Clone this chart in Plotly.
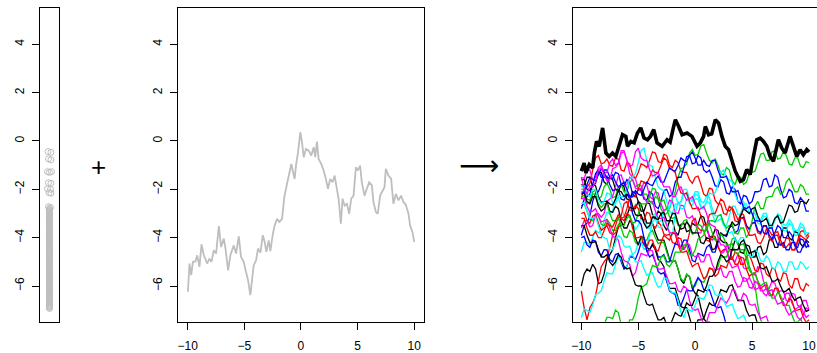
import plotly.graph_objects as go

# ---------------------------------------------------------------
# Panel 1: marginal sample values (column of open circles)
# ---------------------------------------------------------------
sparse_values = [-0.44, -0.47, -0.74, -0.78, -1.27, -1.30, -1.27, -1.73,
                 -1.75, -1.98, -2.00, -2.14, -2.16, -2.72, -2.75]
sparse_jitter = [-0.15, 0.15, -0.10, 0.15, -0.20, 0.00, 0.20, -0.10,
                 0.15, -0.20, 0.10, -0.05, 0.15, -0.10, 0.10]

dense_values = [
    -2.80, -2.83, -2.87, -2.90, -2.94, -2.97, -3.01, -3.04, -3.08, -3.11,
    -3.15, -3.18, -3.22, -3.25, -3.29, -3.32, -3.36, -3.39, -3.43, -3.46,
    -3.50, -3.53, -3.57, -3.60, -3.64, -3.67, -3.71, -3.74, -3.78, -3.81,
    -3.85, -3.88, -3.92, -3.95, -3.99, -4.02, -4.06, -4.09, -4.13, -4.16,
    -4.20, -4.23, -4.27, -4.30, -4.34, -4.37, -4.41, -4.44, -4.48, -4.51,
    -4.55, -4.58, -4.62, -4.65, -4.69, -4.72, -4.76, -4.79, -4.83, -4.86,
    -4.90, -4.93, -4.97, -5.00, -5.04, -5.07, -5.11, -5.14, -5.18, -5.21,
    -5.25, -5.28, -5.32, -5.35, -5.39, -5.42, -5.46, -5.49, -5.53, -5.56,
    -5.60, -5.63, -5.67, -5.70, -5.74, -5.77, -5.81, -5.84, -5.88, -5.91,
    -5.95, -5.98, -6.02, -6.05, -6.09, -6.12, -6.16, -6.19, -6.23, -6.26,
    -6.30, -6.33, -6.37, -6.40, -6.44, -6.47, -6.51, -6.54, -6.58, -6.61,
    -6.65, -6.68, -6.72, -6.75, -6.79, -6.82, -6.86, -6.89, -6.93,
]

# ---------------------------------------------------------------
# Panel 2: one sample path
# ---------------------------------------------------------------
grey_x = [
    -9.98, -9.84, -9.69, -9.54, -9.31, -9.16, -8.96, -8.78, -8.57, -8.28,
    -8.08, -7.90, -7.69, -7.49, -7.25, -7.05, -6.81, -6.67, -6.43, -6.23,
    -6.08, -5.93, -5.73, -5.49, -5.29, -5.05, -4.85, -4.67, -4.47, -4.32,
    -4.17, -3.96, -3.79, -3.58, -3.37, -3.20, -3.05, -2.85, -2.70, -2.50,
    -2.32, -2.11, -1.91, -1.67, -1.47, -1.23, -1.03, -0.85, -0.73, -0.56,
    -0.44, -0.26, -0.06, 0.09, 0.24, 0.44, 0.68, 0.91, 1.12, 1.26,
    1.41, 1.56, 1.79, 2.00, 2.20, 2.38, 2.58, 2.79, 2.97, 3.17,
    3.32, 3.52, 3.67, 3.85, 4.05, 4.26, 4.43, 4.64, 4.85, 5.02,
    5.22, 5.37, 5.61, 5.81, 6.02, 6.26, 6.40, 6.61, 6.78, 6.99,
    7.20, 7.37, 7.49, 7.72, 7.96, 8.16, 8.37, 8.61, 8.84, 9.05,
    9.25, 9.49, 9.63, 9.84, 10.00,
]
grey_y = [
    -6.24, -5.07, -5.55, -5.00, -4.98, -4.73, -5.21, -4.28, -4.73, -5.07,
    -4.87, -5.00, -4.52, -4.66, -3.52, -4.38, -4.04, -4.42, -5.35, -4.73,
    -4.52, -4.32, -4.66, -3.95, -4.80, -5.00, -5.42, -5.76, -6.38, -5.83,
    -5.14, -4.94, -4.45, -4.62, -3.90, -4.18, -4.59, -4.11, -4.56, -3.90,
    -3.49, -3.22, -3.35, -3.22, -2.32, -1.77, -1.36, -0.95, -1.22, -1.57,
    -1.02, -0.47, 0.36, -0.05, -0.67, -0.33, -0.40, -0.60, -0.26, -0.67,
    -0.03, -0.74, -0.95, -1.22, -1.57, -1.98, -1.57, -1.71, -1.43, -1.98,
    -2.39, -3.42, -2.39, -2.67, -2.60, -3.01, -2.39, -2.26, -1.09, -1.22,
    -1.02, -1.71, -2.26, -1.98, -1.71, -1.84, -2.53, -2.94, -3.01, -2.26,
    -2.05, -1.91, -1.15, -1.43, -1.57, -2.60, -2.19, -2.46, -2.26, -2.53,
    -2.64, -3.01, -3.49, -3.77, -4.18,
]

# ---------------------------------------------------------------
# Panel 3: many sample paths on a common grid, plus the highlighted one
# ---------------------------------------------------------------
grid_x = [
    -10.0, -9.75, -9.5, -9.25, -9.0, -8.75, -8.5, -8.25, -8.0, -7.75,
    -7.5, -7.25, -7.0, -6.75, -6.5, -6.25, -6.0, -5.75, -5.5, -5.25,
    -5.0, -4.75, -4.5, -4.25, -4.0, -3.75, -3.5, -3.25, -3.0, -2.75,
    -2.5, -2.25, -2.0, -1.75, -1.5, -1.25, -1.0, -0.75, -0.5, -0.25,
    0.0, 0.25, 0.5, 0.75, 1.0, 1.25, 1.5, 1.75, 2.0, 2.25,
    2.5, 2.75, 3.0, 3.25, 3.5, 3.75, 4.0, 4.25, 4.5, 4.75,
    5.0, 5.25, 5.5, 5.75, 6.0, 6.25, 6.5, 6.75, 7.0, 7.25,
    7.5, 7.75, 8.0, 8.25, 8.5, 8.75, 9.0, 9.25, 9.5, 9.75,
    10.0,
]

path_01 = [
    -1.8, -1.85, -1.5, -1.5, -1.9, -1.75, -1.3, -1.3, -1.7, -1.8,
    -1.5, -1.6, -2.0, -2.1, -1.8, -1.9, -2.4, -2.45, -2.1, -2.15,
    -2.5, -2.9, -2.9, -2.55, -2.6, -3.05, -3.2, -2.9, -3.0, -3.5,
    -3.7, -3.3, -3.3, -3.75, -3.9, -3.45, -3.4, -3.75, -3.7, -3.4,
    -3.5, -3.45, -3.1, -3.15, -3.6, -3.95, -4.0, -3.65, -3.7, -4.1,
    -4.2, -4.2, -4.5, -4.5, -4.1, -4.2, -4.6, -4.65, -4.3, -4.35,
    -4.8, -4.8, -4.4, -4.35, -4.7, -4.6, -4.1, -4.05, -4.4, -4.4,
    -4.0, -3.6, -3.6, -4.0, -4.1, -3.75, -3.8, -4.25, -4.4, -4.1,
    -4.2,
]
path_02 = [
    -2.4, -1.95, -1.9, -1.75, -1.2, -0.7, -0.6, -0.95, -0.9, -0.75,
    -1.0, -1.05, -0.7, -0.75, -1.2, -1.25, -0.9, -0.95, -1.4, -1.55,
    -1.3, -0.95, -1.0, -1.1, -0.8, -0.45, -0.5, -0.85, -0.9, -0.55,
    -0.6, -1.0, -1.1, -0.8, -0.9, -1.25, -1.3, -1.3, -1.6, -1.75,
    -1.5, -1.45, -1.8, -2.2, -2.3, -1.95, -2.0, -2.45, -2.6, -2.6,
    -3.0, -3.05, -2.7, -2.8, -3.3, -3.35, -3.0, -3.05, -3.5, -3.65,
    -3.4, -3.4, -3.8, -3.85, -3.5, -3.55, -4.0, -4.15, -3.9, -3.9,
    -4.3, -4.35, -4.0, -4.05, -4.5, -4.5, -4.1, -3.75, -3.7, -3.95,
    -3.8,
]
path_03 = [
    -2.3, -2.25, -2.6, -2.5, -2.1, -2.05, -2.4, -2.3, -1.9, -1.75,
    -2.0, -2.35, -2.3, -1.9, -1.8, -2.1, -2.1, -1.7, -1.6, -1.9,
    -1.8, -1.85, -2.2, -2.2, -2.5, -2.6, -2.3, -2.4, -2.8, -3.05,
    -3.0, -2.8, -2.4, -2.1, -1.5, -1.15, -1.1, -0.95, -0.5, -0.35,
    -0.6, -0.55, -0.2, -0.15, -0.5, -0.8, -0.9, -0.75, -1.0, -1.35,
    -1.4, -1.1, -1.2, -1.65, -1.8, -1.45, -1.5, -1.8, -1.7, -1.35,
    -1.3, -1.25, -0.9, -0.55, -0.5, -0.8, -0.8, -0.45, -0.4, -0.75,
    -0.7, -0.45, -0.6, -0.95, -1.0, -0.7, -0.7, -1.05, -1.1, -0.85,
    -0.9,
]
path_04 = [
    -3.9, -3.5, -3.4, -3.1, -2.5, -2.15, -2.1, -1.8, -1.2, -1.2,
    -1.5, -1.55, -1.3, -1.35, -1.8, -1.85, -1.6, -1.7, -2.2, -2.3,
    -2.0, -2.0, -2.4, -2.45, -2.1, -2.2, -2.7, -2.8, -2.5, -2.05,
    -2.0, -2.3, -2.2, -1.7, -1.5, -1.5, -1.1, -0.65, -0.6, -0.95,
    -0.9, -0.6, -0.7, -1.2, -1.3, -1.2, -1.5, -1.85, -1.9, -1.6,
    -1.7, -2.15, -2.2, -1.9, -2.0, -2.5, -2.6, -2.25, -2.3, -2.6,
    -2.5, -2.1, -2.1, -2.05, -1.6, -1.55, -1.9, -1.85, -1.4, -1.5,
    -2.0, -2.35, -2.3, -2.0, -2.1, -2.55, -2.6, -2.35, -2.5, -2.9,
    -2.9,
]
path_05 = [
    -4.6, -4.2, -4.2, -4.3, -4.0, -3.7, -3.8, -3.7, -3.3, -2.95,
    -3.0, -2.9, -2.4, -2.35, -2.7, -3.1, -3.1, -3.05, -3.4, -3.65,
    -3.5, -3.15, -3.2, -3.6, -3.6, -3.1, -3.0, -3.35, -3.3, -2.85,
    -2.8, -2.75, -2.3, -2.25, -2.6, -2.5, -2.0, -2.0, -2.4, -2.5,
    -2.2, -2.25, -2.7, -2.8, -2.5, -2.55, -3.0, -3.35, -3.3, -3.2,
    -3.5, -3.5, -3.1, -2.7, -2.7, -3.05, -3.0, -2.6, -2.6, -3.0,
    -3.0, -3.0, -3.4, -3.45, -3.1, -3.15, -3.6, -3.6, -3.2, -3.05,
    -3.3, -3.7, -3.7, -3.4, -3.5, -3.9, -3.9, -3.55, -3.6, -4.0,
    -4.0,
]
path_06 = [
    -1.5, -1.55, -1.2, -1.2, -1.6, -1.5, -1.1, -1.0, -1.3, -1.3,
    -0.9, -0.75, -1.0, -0.9, -0.4, -0.4, -0.8, -1.35, -1.5, -1.55,
    -2.0, -2.05, -1.7, -1.8, -2.3, -2.4, -2.1, -2.15, -2.6, -2.9,
    -2.8, -2.45, -2.5, -2.95, -3.0, -2.65, -2.7, -3.15, -3.2, -3.1,
    -3.4, -3.8, -3.8, -3.45, -3.5, -4.0, -4.1, -4.0, -4.3, -4.65,
    -4.6, -4.3, -4.4, -4.9, -5.0, -4.7, -4.8, -5.25, -5.3, -5.2,
    -5.5, -5.55, -5.2, -5.3, -5.8, -6.15, -6.1, -5.8, -5.9, -6.25,
    -6.2, -6.2, -6.6, -6.65, -6.3, -6.35, -6.8, -6.9, -6.6, -6.6,
    -7.0,
]
path_07 = [
    -6.0, -5.5, -5.3, -5.4, -5.1, -5.3, -5.9, -5.85, -5.5, -4.9,
    -4.7, -4.5, -4.0, -3.55, -3.5, -3.45, -3.1, -2.75, -2.8, -2.8,
    -2.5, -2.6, -3.0, -3.4, -3.4, -3.4, -3.8, -4.1, -4.1, -4.1,
    -4.5, -4.9, -5.0, -4.95, -5.3, -5.75, -5.9, -5.55, -5.6, -6.1,
    -6.3, -6.4, -6.9, -7.35, -7.5, -7.5, -7.9, -8.2, -8.2, -7.9,
    -8.0, -8.3, -8.4, -8.1, -8.1, -8.4, -8.5, -8.2, -8.3, -8.6,
    -8.6, -8.2, -8.2, -8.5, -8.5, -8.8, -8.8, -8.5, -8.4, -8.7,
    -8.7, -9.0, -9.0, -8.7, -8.6, -8.9, -8.9, -9.2, -9.2, -9.0,
    -9.0,
]
path_08 = [
    -6.2, -6.9, -7.4, -6.9, -6.7, -6.4, -5.8, -5.2, -5.0, -4.85,
    -4.4, -3.9, -3.8, -3.6, -3.1, -2.6, -2.5, -2.85, -2.9, -2.65,
    -2.8, -3.2, -3.3, -2.95, -3.0, -3.45, -3.6, -3.35, -3.5, -3.85,
    -3.9, -3.85, -4.2, -4.25, -4.0, -4.05, -4.5, -4.3, -3.8, -3.3,
    -3.2, -3.6, -3.7, -3.7, -4.1, -4.15, -3.9, -3.95, -4.4, -4.6,
    -4.5, -4.5, -4.9, -4.9, -4.6, -4.65, -5.1, -5.1, -4.8, -4.7,
    -5.0, -5.35, -5.4, -5.05, -5.1, -5.5, -5.6, -5.25, -5.3, -5.7,
    -5.8, -5.45, -5.5, -5.95, -6.1, -5.7, -5.7, -6.1, -6.2, -5.9,
    -6.0,
]
path_09 = [
    -2.7, -2.6, -2.9, -3.25, -3.3, -3.0, -3.1, -3.45, -3.5, -3.25,
    -3.4, -3.7, -3.7, -3.45, -3.6, -3.95, -4.0, -3.7, -3.8, -4.2,
    -4.3, -4.0, -4.1, -4.1, -3.8, -3.7, -4.0, -4.25, -4.2, -4.2,
    -4.6, -4.95, -5.0, -4.95, -5.3, -5.7, -5.8, -5.5, -5.6, -6.0,
    -6.0, -5.7, -5.8, -5.85, -5.6, -5.3, -5.3, -5.4, -5.2, -4.8,
    -4.8, -4.8, -4.5, -4.05, -4.0, -4.3, -4.3, -4.25, -4.6, -5.2,
    -5.5, -5.95, -6.8, -7.4, -7.6, -7.6, -8.0, -8.1, -7.8, -8.2,
    -8.2, -8.5, -8.5, -8.3, -8.3, -8.6, -8.7, -8.5, -8.6, -8.8,
    -8.9,
]
path_10 = [
    -4.0, -3.95, -4.3, -4.4, -4.1, -4.15, -4.6, -4.75, -4.5, -4.5,
    -4.9, -5.0, -4.7, -4.65, -5.0, -5.3, -5.2, -4.8, -4.8, -4.9,
    -4.6, -4.2, -4.2, -4.55, -4.5, -4.25, -4.4, -4.8, -4.8, -4.7,
    -5.0, -5.0, -4.6, -4.25, -4.3, -4.4, -4.1, -4.1, -4.5, -4.95,
    -5.0, -4.65, -4.7, -4.75, -4.4, -4.3, -4.6, -4.6, -4.2, -3.85,
    -3.9, -3.95, -3.6, -3.5, -3.8, -3.7, -3.2, -3.15, -3.5, -3.65,
    -3.4, -3.35, -3.7, -3.8, -3.5, -3.5, -3.9, -4.05, -3.8, -3.5,
    -3.6, -4.0, -4.0, -3.75, -3.9, -4.35, -4.4, -4.05, -4.1, -4.4,
    -4.3,
]
path_11 = [
    -7.3, -6.95, -7.0, -7.1, -6.8, -6.35, -6.3, -6.2, -5.8, -5.45,
    -5.5, -5.5, -5.1, -4.8, -4.9, -5.2, -5.2, -4.75, -4.7, -4.6,
    -4.2, -4.15, -4.5, -4.35, -3.9, -3.35, -3.2, -3.55, -3.6, -3.3,
    -3.4, -3.8, -3.9, -3.0, -2.5, -2.8, -2.8, -2.4, -2.4, -2.4,
    -2.1, -2.1, -2.5, -2.55, -2.3, -2.35, -2.8, -3.1, -3.1, -3.05,
    -3.4, -3.75, -3.8, -3.75, -4.1, -4.2, -4.0, -4.0, -4.4, -4.75,
    -4.8, -4.5, -4.6, -4.95, -5.0, -4.75, -4.9, -5.25, -5.3, -5.0,
    -5.1, -5.4, -5.4, -5.0, -5.0, -5.3, -5.3, -5.0, -5.1, -5.3,
    -5.2,
]
path_12 = [
    -3.6, -3.3, -3.3, -3.55, -3.5, -3.05, -3.0, -3.15, -3.0, -2.5,
    -2.4, -2.3, -1.9, -1.45, -1.4, -1.75, -1.8, -1.5, -1.6, -1.95,
    -2.0, -1.95, -2.3, -2.55, -2.5, -2.5, -2.9, -3.2, -3.2, -3.15,
    -3.5, -3.8, -3.8, -3.75, -4.1, -4.45, -4.5, -4.2, -4.3, -4.7,
    -4.8, -4.7, -5.0, -5.0, -4.7, -4.7, -5.1, -5.35, -5.3, -5.25,
    -5.6, -5.65, -5.4, -5.4, -5.8, -6.05, -6.0, -5.65, -5.7, -6.05,
    -6.1, -5.8, -5.9, -6.2, -6.2, -6.1, -6.4, -6.4, -6.1, -6.1,
    -6.5, -6.55, -6.3, -6.3, -6.7, -6.95, -6.9, -6.8, -7.1, -7.3,
    -7.2,
]
path_13 = [
    -1.6, -1.6, -2.0, -2.05, -1.8, -1.85, -2.3, -2.55, -2.5, -2.5,
    -2.9, -2.95, -2.7, -2.8, -3.3, -3.6, -3.6, -3.3, -3.4, -4.0,
    -4.3, -3.95, -4.0, -4.4, -4.5, -4.3, -4.5, -4.9, -5.0, -5.2,
    -5.8, -6.1, -6.1, -6.1, -6.5, -6.85, -6.9, -6.9, -7.3, -7.7,
    -7.8, -7.4, -7.4, -7.35, -7.0, -6.7, -6.8, -6.8, -6.5, -6.15,
    -6.2, -6.25, -6.0, -5.95, -6.3, -6.6, -6.6, -6.6, -7.0, -7.25,
    -7.2, -7.2, -7.6, -7.95, -8.0, -8.0, -8.2, -8.4, -8.5, -8.3,
    -8.3, -8.6, -8.7, -8.7, -8.9, -9.1, -9.1, -8.9, -8.8, -9.1,
    -9.2,
]
path_14 = [
    -3.0, -2.95, -3.3, -3.4, -3.1, -3.05, -3.4, -3.7, -3.6, -3.5,
    -3.8, -3.85, -3.5, -3.15, -3.2, -3.3, -3.0, -3.1, -3.6, -4.0,
    -4.0, -3.95, -4.3, -4.4, -4.1, -4.1, -4.5, -4.55, -4.2, -3.9,
    -4.0, -4.1, -3.8, -3.85, -4.3, -4.6, -4.6, -4.55, -4.9, -5.2,
    -5.1, -5.05, -5.4, -5.7, -5.6, -5.25, -5.3, -5.6, -5.5, -5.15,
    -5.2, -5.25, -4.9, -4.8, -5.1, -5.1, -4.8, -4.85, -5.3, -5.6,
    -5.5, -5.45, -5.8, -6.1, -6.0, -5.95, -6.3, -6.4, -6.1, -6.1,
    -6.5, -6.8, -6.8, -6.5, -6.6, -7.0, -7.0, -6.95, -7.3, -7.5,
    -7.4,
]
path_15 = [
    -2.0, -2.0, -2.4, -2.45, -2.2, -2.2, -2.6, -2.75, -2.6, -2.6,
    -3.0, -3.3, -3.3, -3.2, -3.5, -3.5, -3.2, -3.1, -3.4, -3.35,
    -3.0, -2.6, -2.6, -2.6, -2.3, -1.95, -2.0, -2.4, -2.5, -2.45,
    -2.8, -3.15, -3.2, -3.15, -3.5, -3.55, -3.3, -3.25, -3.6, -3.85,
    -3.8, -3.45, -3.5, -3.75, -3.7, -3.3, -3.3, -3.35, -3.1, -3.05,
    -3.4, -3.6, -3.5, -3.45, -3.8, -3.85, -3.6, -3.6, -4.0, -3.8,
    -3.3, -2.7, -2.5, -2.8, -2.8, -2.35, -2.3, -2.3, -2.0, -1.9,
    -2.2, -2.1, -1.7, -1.55, -1.8, -2.1, -2.1, -1.8, -1.9, -2.2,
    -2.2,
]
path_16 = [
    -2.8, -2.4, -2.3, -2.2, -1.8, -1.35, -1.2, -1.5, -1.5, -1.45,
    -1.8, -2.05, -2.0, -2.0, -2.4, -2.45, -2.2, -2.4, -3.0, -3.3,
    -3.3, -3.45, -4.0, -4.55, -4.8, -4.7, -5.0, -5.4, -5.5, -5.45,
    -5.8, -6.2, -6.3, -6.35, -6.8, -6.8, -6.5, -6.15, -6.2, -6.2,
    -5.9, -5.65, -5.8, -6.15, -6.2, -6.15, -6.5, -6.85, -6.9, -6.85,
    -7.2, -7.65, -7.8, -7.75, -8.1, -8.3, -8.4, -8.2, -8.2, -8.4,
    -8.5, -8.5, -8.7, -8.6, -8.4, -8.7, -8.8, -8.8, -9.0, -8.8,
    -8.7, -9.0, -9.1, -9.1, -9.3, -9.1, -9.0, -9.2, -9.2, -9.3,
    -9.4,
]
path_17 = [
    -1.9, -1.85, -2.2, -2.3, -2.0, -2.0, -2.4, -2.6, -2.5, -2.15,
    -2.2, -2.55, -2.6, -2.25, -2.3, -2.3, -2.0, -1.55, -1.5, -1.35,
    -0.9, -0.4, -0.3, -0.8, -1.0, -1.05, -1.5, -1.9, -2.0, -2.05,
    -2.5, -2.9, -3.0, -2.6, -2.6, -2.55, -2.2, -2.2, -2.6, -2.65,
    -2.4, -2.4, -2.8, -2.8, -2.5, -2.15, -2.2, -2.15, -1.8, -1.3,
    -1.2, -1.55, -1.6, -1.7, -2.2, -2.5, -2.5, -2.5, -2.9, -3.0,
    -2.8, -2.8, -3.2, -3.25, -3.0, -3.0, -3.4, -3.5, -3.3, -3.0,
    -3.1, -3.45, -3.5, -3.25, -3.4, -3.7, -3.7, -3.4, -3.5, -3.8,
    -3.8,
]
path_18 = [
    -2.4, -2.35, -2.7, -2.95, -2.9, -2.8, -3.1, -3.35, -3.3, -3.25,
    -3.6, -3.95, -4.0, -4.1, -4.6, -4.95, -5.0, -5.1, -5.6, -5.45,
    -5.0, -4.65, -4.7, -4.75, -4.5, -4.55, -5.0, -5.3, -5.3, -5.25,
    -5.6, -5.9, -5.9, -5.85, -6.2, -6.25, -6.0, -6.1, -6.6, -6.95,
    -7.0, -6.95, -7.3, -7.55, -7.5, -7.1, -7.1, -7.1, -6.8, -6.5,
    -6.6, -6.7, -6.5, -6.15, -6.2, -6.55, -6.6, -6.3, -6.4, -6.75,
    -6.8, -6.75, -7.1, -7.35, -7.3, -7.25, -7.6, -7.9, -7.9, -7.8,
    -8.1, -8.1, -7.8, -7.8, -8.2, -8.45, -8.4, -8.15, -8.3, -8.6,
    -8.6,
]
path_19 = [
    -2.2, -2.15, -2.5, -2.6, -2.3, -2.3, -2.7, -2.9, -2.8, -2.5,
    -2.6, -2.65, -2.4, -2.05, -2.1, -2.3, -2.2, -2.25, -2.7, -3.05,
    -3.1, -3.05, -3.4, -3.6, -3.5, -3.15, -3.2, -3.25, -3.0, -2.95,
    -3.3, -3.3, -3.0, -3.0, -3.4, -3.65, -3.6, -3.35, -3.5, -3.8,
    -3.8, -3.8, -4.2, -4.25, -4.0, -4.05, -4.5, -4.45, -4.1, -3.8,
    -3.9, -3.9, -3.6, -3.35, -3.5, -3.45, -3.1, -2.8, -2.9, -3.0,
    -2.8, -2.75, -3.1, -3.35, -3.3, -3.2, -3.5, -3.5, -3.2, -3.1,
    -3.4, -3.35, -3.0, -2.65, -2.7, -2.95, -2.9, -2.5, -2.5, -2.6,
    -2.4,
]
path_20 = [
    -3.2, -3.2, -3.6, -3.9, -3.9, -3.75, -4.0, -4.0, -3.7, -3.4,
    -3.5, -3.55, -3.3, -3.05, -3.2, -3.15, -2.8, -2.35, -2.3, -2.3,
    -2.0, -1.65, -1.7, -1.75, -1.5, -1.2, -1.3, -1.3, -1.0, -0.7,
    -0.8, -1.15, -1.2, -1.3, -1.8, -2.15, -2.2, -2.15, -2.5, -2.8,
    -2.8, -2.75, -3.1, -3.45, -3.5, -3.05, -3.0, -3.0, -2.7, -2.4,
    -2.5, -2.85, -2.9, -2.75, -3.0, -3.25, -3.2, -3.2, -3.6, -3.9,
    -3.9, -3.85, -4.2, -4.25, -4.0, -3.65, -3.7, -3.9, -3.8, -3.75,
    -4.1, -4.4, -4.4, -4.25, -4.5, -4.5, -4.2, -3.9, -4.0, -4.1,
    -3.9,
]
path_21 = [
    -8.2, -7.9, -8.0, -8.1, -7.8, -7.6, -7.9, -7.9, -7.6, -7.3,
    -7.3, -7.35, -7.0, -7.1, -7.6, -7.85, -7.8, -7.4, -7.4, -7.1,
    -6.5, -6.05, -6.0, -5.9, -5.5, -5.15, -5.2, -5.15, -4.8, -4.75,
    -5.1, -5.2, -5.0, -4.6, -4.6, -4.6, -4.3, -4.3, -4.7, -4.75,
    -4.5, -4.05, -4.0, -3.9, -3.5, -3.45, -3.8, -4.1, -4.1, -3.85,
    -4.0, -4.3, -4.3, -4.25, -4.6, -4.7, -4.5, -4.5, -4.9, -5.35,
    -5.5, -5.45, -5.8, -6.0, -5.9, -5.85, -6.2, -6.5, -6.5, -6.25,
    -6.4, -6.75, -6.8, -6.8, -7.2, -7.5, -7.5, -7.35, -7.6, -7.85,
    -7.8,
]
path_22 = [
    -2.1, -2.15, -1.8, -1.5, -1.6, -1.65, -1.4, -1.15, -1.3, -1.55,
    -1.5, -1.4, -1.7, -1.9, -1.8, -1.7, -2.0, -2.3, -2.3, -2.05,
    -2.2, -2.25, -2.0, -1.7, -1.8, -1.85, -1.6, -1.45, -1.7, -1.7,
    -1.4, -1.1, -1.2, -1.25, -1.0, -0.7, -0.8, -0.85, -0.6, -0.45,
    -0.7, -1.0, -1.0, -0.8, -1.0, -1.05, -0.8, -0.8, -1.2, -1.5,
    -1.5, -1.45, -1.8, -2.1, -2.1, -2.05, -2.4, -2.75, -2.8, -2.7,
    -3.0, -3.3, -3.3, -3.35, -3.8, -3.85, -3.6, -3.6, -4.0, -4.3,
    -4.3, -4.2, -4.5, -4.5, -4.2, -4.2, -4.6, -4.6, -4.3, -4.15,
    -4.4,
]
path_23 = [
    -2.6, -2.55, -2.9, -3.2, -3.2, -3.15, -3.5, -3.9, -4.0, -4.05,
    -4.5, -4.5, -4.2, -3.9, -4.0, -4.35, -4.4, -4.35, -4.7, -5.0,
    -5.0, -4.95, -5.3, -5.55, -5.5, -5.45, -5.8, -6.05, -6.0, -5.65,
    -5.7, -6.15, -6.3, -6.25, -6.6, -7.1, -7.3, -6.95, -7.0, -7.05,
    -6.8, -6.45, -6.5, -6.55, -6.3, -5.95, -6.0, -6.35, -6.4, -6.3,
    -6.6, -6.85, -6.8, -6.75, -7.1, -7.35, -7.3, -7.2, -7.5, -7.8,
    -7.8, -7.7, -8.0, -8.3, -8.3, -8.1, -8.1, -8.4, -8.4, -8.3,
    -8.6, -8.8, -8.8, -8.6, -8.5, -8.8, -8.9, -8.8, -9.1, -9.2,
    -9.0,
]
path_24 = [
    -1.5, -1.95, -2.2, -1.85, -1.9, -1.7, -1.2, -1.1, -1.4, -1.65,
    -1.6, -1.15, -1.1, -0.95, -0.5, -0.45, -0.8, -1.05, -1.0, -0.45,
    -0.3, -0.7, -0.8, -0.8, -1.2, -1.45, -1.4, -1.3, -1.6, -1.9,
    -1.9, -1.9, -2.3, -2.3, -2.0, -1.9, -2.2, -2.45, -2.4, -2.3,
    -2.6, -2.85, -2.8, -2.7, -3.0, -3.4, -3.5, -3.55, -4.0, -4.3,
    -4.3, -4.45, -5.0, -5.25, -5.2, -5.15, -5.5, -5.8, -5.8, -5.65,
    -5.9, -6.15, -6.1, -6.0, -6.3, -6.4, -6.2, -6.15, -6.5, -6.75,
    -6.7, -6.65, -7.0, -7.2, -7.1, -7.0, -7.3, -7.4, -7.2, -6.9,
    -7.0,
]
path_25 = [
    -3.5, -3.5, -3.9, -4.2, -4.2, -4.15, -4.5, -4.8, -4.8, -4.7,
    -5.0, -5.15, -5.0, -4.7, -4.8, -5.2, -5.3, -5.25, -5.6, -5.95,
    -6.0, -6.0, -6.4, -6.75, -6.8, -6.75, -7.1, -7.4, -7.4, -7.3,
    -7.6, -7.65, -7.4, -7.1, -7.2, -7.25, -7.0, -6.7, -6.8, -6.8,
    -6.5, -6.15, -6.2, -6.25, -6.0, -5.6, -5.6, -5.45, -5.0, -4.7,
    -4.8, -5.0, -4.9, -4.5, -4.5, -4.5, -4.2, -4.1, -4.4, -4.65,
    -4.6, -4.55, -4.9, -5.25, -5.3, -5.2, -5.5, -5.8, -5.8, -5.7,
    -6.0, -6.25, -6.2, -6.1, -6.4, -6.6, -6.5, -6.45, -6.8, -7.05,
    -7.0,
]

paths = [path_01, path_02, path_03, path_04, path_05, path_06, path_07,
         path_08, path_09, path_10, path_11, path_12, path_13, path_14,
         path_15, path_16, path_17, path_18, path_19, path_20, path_21,
         path_22, path_23, path_24, path_25]

# R's default palette order
palette = ["#000000", "#FF0000", "#00CD00", "#0000FF", "#00FFFF", "#FF00FF"]

top_x = [
    -10.0, -9.75, -9.6, -9.3, -9.0, -8.86, -8.66, -8.43, -8.13, -7.99,
    -7.84, -7.55, -7.26, -6.97, -6.68, -6.38, -6.09, -5.94, -5.65, -5.36,
    -5.07, -4.78, -4.49, -4.19, -3.93, -3.64, -3.35, -2.9, -2.47, -2.2,
    -1.89, -1.74, -1.45, -1.15, -0.71, -0.28, 0.16, 0.45, 0.74, 0.89,
    1.18, 1.45, 1.77, 2.06, 2.35, 2.64, 2.93, 3.23, 3.52, 3.96,
    4.24, 4.53, 4.83, 5.12, 5.41, 5.71, 6.0, 6.29, 6.58, 6.87,
    7.31, 7.6, 7.9, 8.33, 8.63, 8.92, 9.21, 9.5, 9.8, 10.0,
]
top_y = [
    -1.25, -0.91, -1.32, -0.98, -1.11, -0.5, -0.02, -0.22, 0.54, 0.05,
    -0.5, -0.64, -0.5, -0.64, -0.22, 0.26, 0.19, -0.22, -0.02, -0.08,
    0.33, 0.54, 0.12, 0.05, 0.19, 0.47, -0.08, -0.22, 0.05, -0.05,
    0.6, 0.88, 0.6, 0.26, 0.33, 0.19, -0.22, -0.08, 0.19, 0.6,
    0.26, 0.3, 0.88, 0.74, 0.19, -0.22, -0.36, -0.77, -1.25, -1.67,
    -1.6, -1.18, -1.39, -0.64, 0.05, 0.12, -0.02, -0.22, -0.64, -0.84,
    0.05, -0.29, -0.5, 0.19, -0.22, -0.64, -0.36, -0.57, -0.36, -0.46,
]

y_ticks = [-6, -4, -2, 0, 2, 4]
x_ticks = [-10, -5, 0, 5, 10]

GREY = "#BEBEBE"
W, H = 817, 353

fig = go.Figure()

# marginal values: a few isolated ones, then a tightly packed column
fig.add_trace(go.Scatter(
    x=sparse_jitter, y=sparse_values, mode="markers",
    marker=dict(symbol="circle-open", size=6, color=GREY, line=dict(width=1, color=GREY)),
    xaxis="x", yaxis="y", showlegend=False, hoverinfo="skip",
))
fig.add_trace(go.Scatter(
    x=[0.0] * len(dense_values), y=dense_values, mode="markers",
    marker=dict(symbol="circle-open", size=6, color=GREY, line=dict(width=1, color=GREY)),
    xaxis="x", yaxis="y", showlegend=False, hoverinfo="skip",
))

fig.add_trace(go.Scatter(
    x=grey_x, y=grey_y, mode="lines",
    line=dict(color=GREY, width=1.8),
    xaxis="x2", yaxis="y2", showlegend=False, hoverinfo="skip",
))

for i, p in enumerate(paths):
    fig.add_trace(go.Scatter(
        x=grid_x[:len(p)], y=p, mode="lines",
        line=dict(color=palette[i % len(palette)], width=1.3),
        xaxis="x3", yaxis="y3", showlegend=False, hoverinfo="skip",
    ))

fig.add_trace(go.Scatter(
    x=top_x, y=top_y, mode="lines",
    line=dict(color="#000000", width=3.6),
    xaxis="x3", yaxis="y3", showlegend=False, hoverinfo="skip",
))

tick_font = dict(family="Liberation Sans, Arial, sans-serif", size=12, color="#000000")


def px_x(a, b):
    return [a / W, b / W]


y_dom = [(H - 322.7) / H, (H - 8.3) / H]
y_rng = [-7.48, 5.49]

common_y = dict(
    domain=y_dom, range=y_rng, tickvals=y_ticks, ticks="outside", ticklen=7,
    tickwidth=1, tickcolor="#000000", tickangle=-90, tickfont=tick_font,
    showline=True, linecolor="#000000", linewidth=1, showgrid=False,
    zeroline=False, fixedrange=True, ticklabelstandoff=3,
)
common_x = dict(
    showline=True, linecolor="#000000", linewidth=1, mirror=True,
    showgrid=False, zeroline=False, fixedrange=True, tickfont=tick_font,
)

fig.update_layout(
    width=W, height=H,
    margin=dict(l=0, r=0, t=0, b=0),
    paper_bgcolor="#FFFFFF", plot_bgcolor="#FFFFFF",
    xaxis=dict(common_x, domain=px_x(37.7, 57.5), range=[-1, 1],
               ticks="", showticklabels=False, anchor="y"),
    yaxis=dict(common_y, anchor="x", mirror=True),
    xaxis2=dict(common_x, domain=px_x(176.7, 422.7), range=[-10.83, 10.83],
                tickvals=x_ticks, ticks="outside", ticklen=7, tickwidth=1,
                tickcolor="#000000", anchor="y2", ticklabelstandoff=6),
    yaxis2=dict(common_y, anchor="x2", mirror=True),
    xaxis3=dict(common_x, domain=[572.3 / W, 1.0], range=[-10.74, 10.70],
                tickvals=x_ticks, ticks="outside", ticklen=7, tickwidth=1,
                tickcolor="#000000", anchor="y3", ticklabelstandoff=6),
    yaxis3=dict(common_y, anchor="x3", mirror=False),
    annotations=[
        dict(text="+", x=97 / W, y=1 - 167 / H, xref="paper", yref="paper",
             showarrow=False, xanchor="center", yanchor="middle",
             font=dict(family="Liberation Sans, Arial, sans-serif", size=26, color="#000000")),
        dict(text="⟶", x=478.5 / W, y=1 - 166 / H, xref="paper", yref="paper",
             showarrow=False, xanchor="center", yanchor="middle",
             font=dict(family="DejaVu Sans, sans-serif", size=28, color="#000000")),
    ],
)

fig.write_html("out.html")
